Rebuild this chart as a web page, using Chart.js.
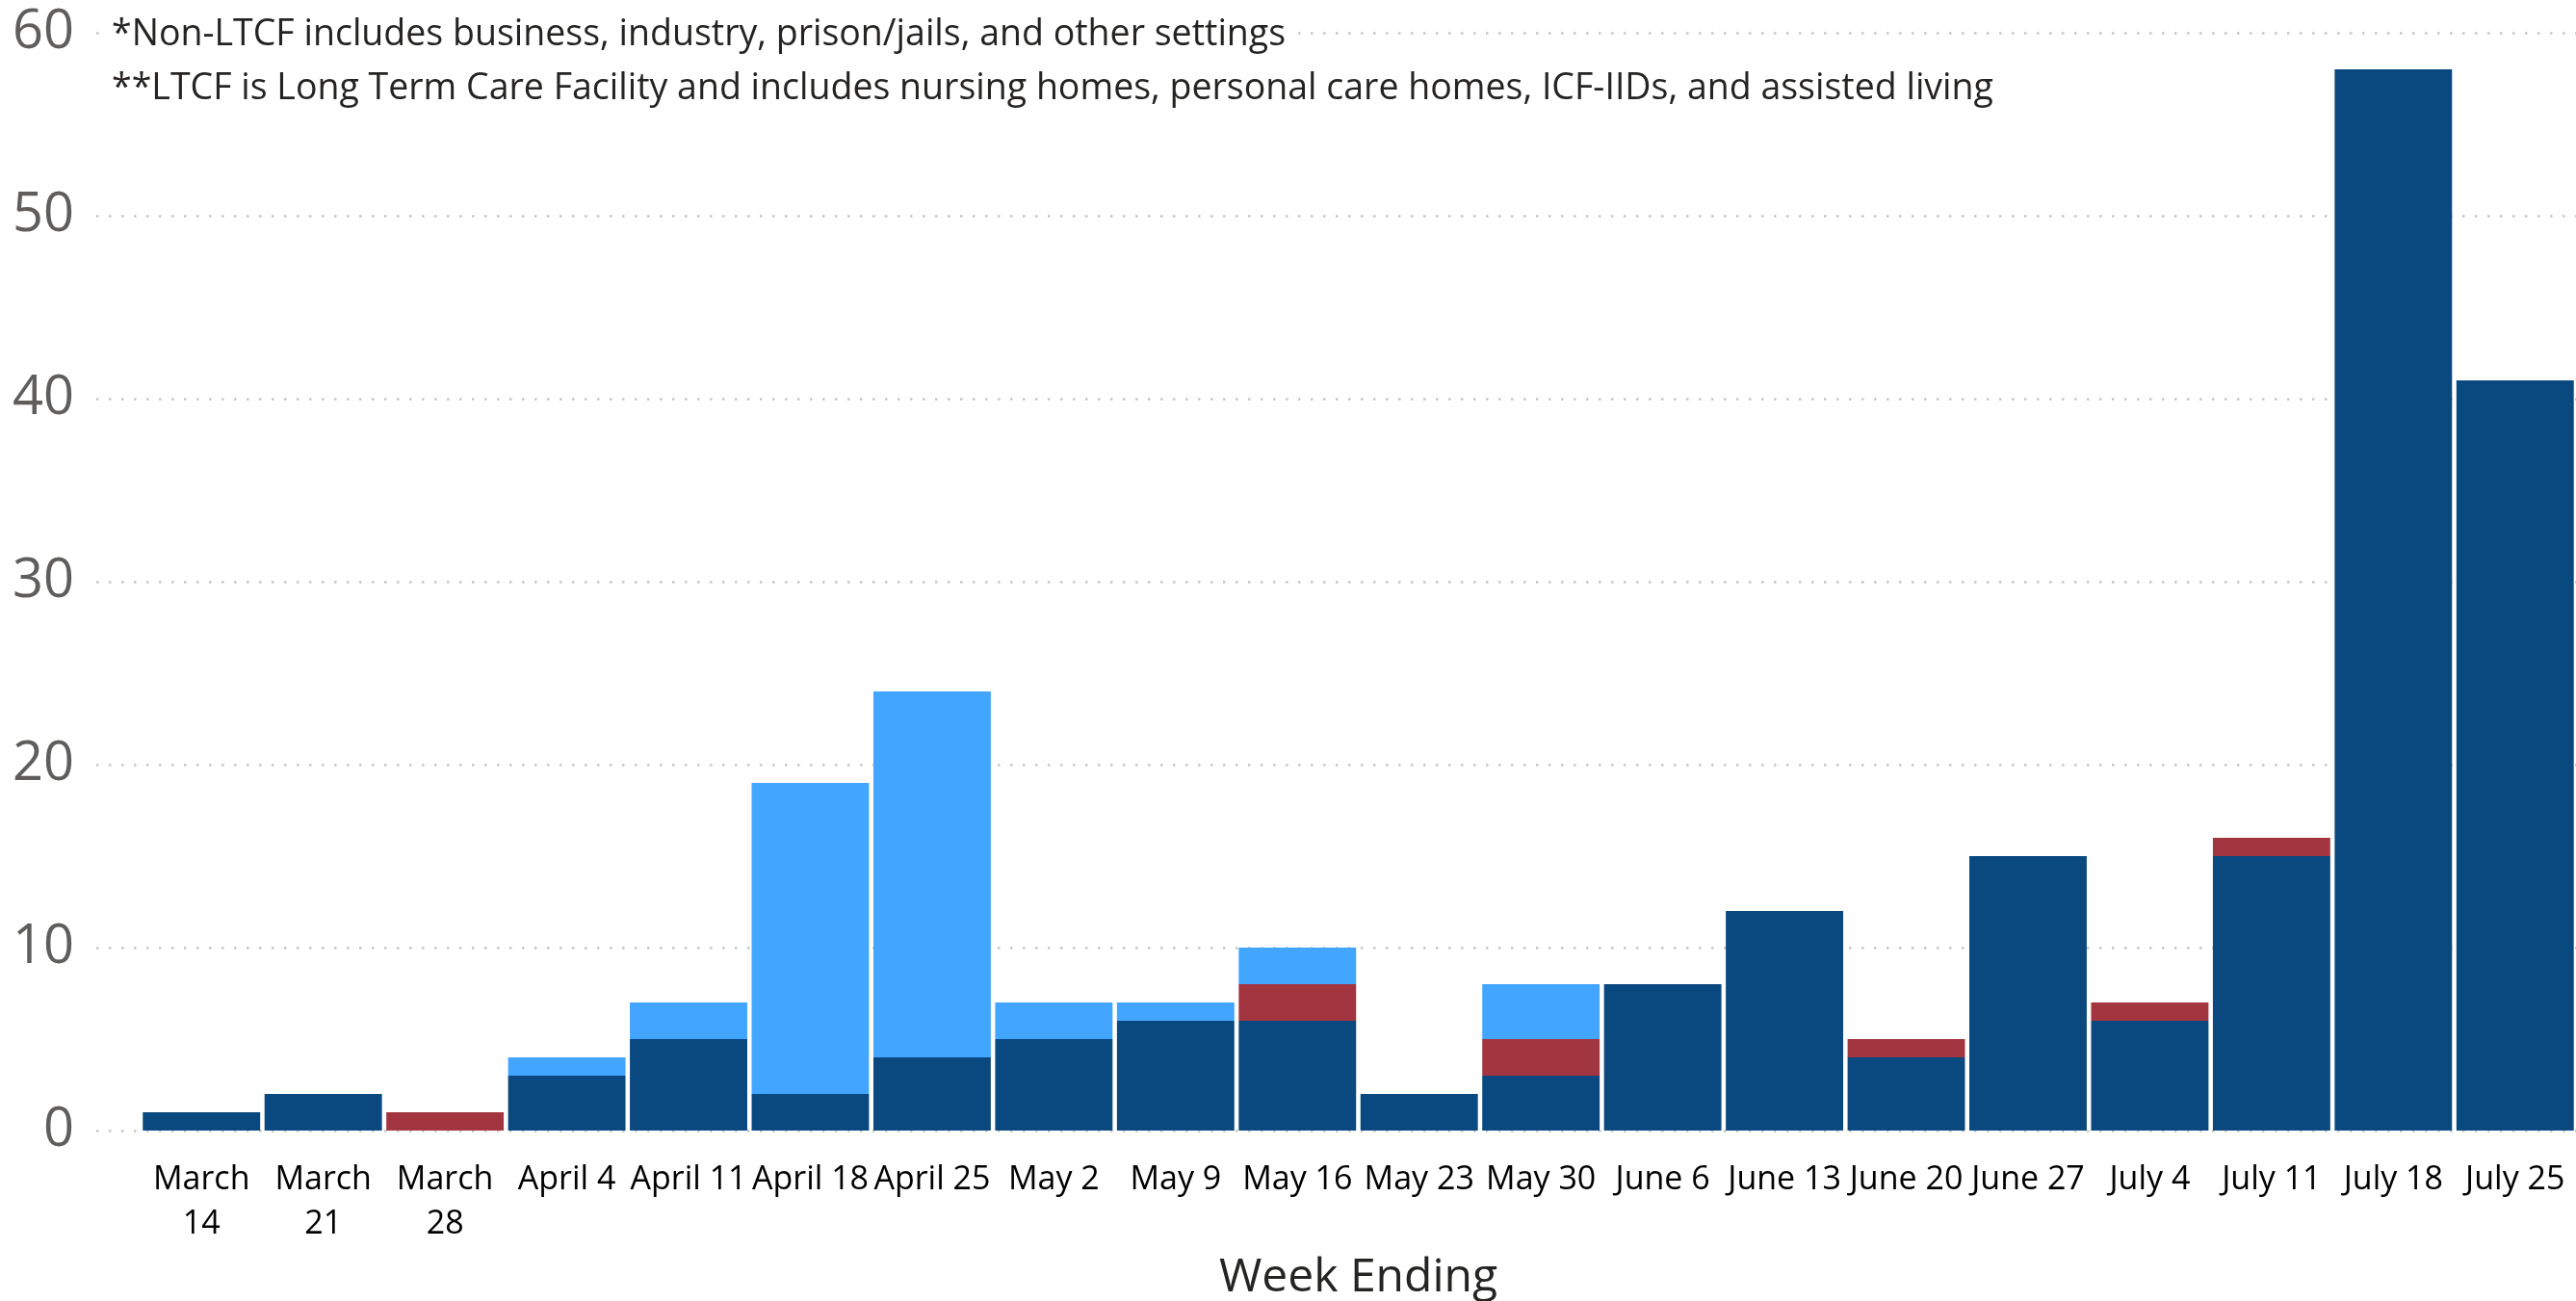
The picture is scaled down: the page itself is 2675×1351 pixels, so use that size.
<!DOCTYPE html>
<html>
<head>
<meta charset="utf-8">
<script src="https://cdn.jsdelivr.net/npm/chart.js@4.4.1/dist/chart.umd.min.js"></script>
<style>
  html, body { margin: 0; padding: 0; background: #fff; }
  #wrap { width: 2675px; height: 1351px; }
</style>
</head>
<body>
<div id="wrap"><canvas id="weekChart" width="2675" height="1351"></canvas></div>
<script>
// Week ending labels (the March ones wrap to two lines in the original)
const weeks = [
    ['March', '14'], ['March', '21'], ['March', '28'], 'April 4', 'April 11', 'April 18', 'April 25',
    'May 2', 'May 9', 'May 16', 'May 23', 'May 30', 'June 6', 'June 13', 'June 20', 'June 27',
    'July 4', 'July 11', 'July 18', 'July 25'
];

// Stacked series, bottom to top
const nonLtcf = [1, 2, 0, 3, 5, 2, 4, 5, 6, 6, 2, 3, 8, 12, 4, 15, 6, 15, 58, 41];
const other   = [0, 0, 1, 0, 0, 0, 0, 0, 0, 2, 0, 2, 0, 0, 1, 0, 1, 1, 0, 0];
const ltcf    = [0, 0, 0, 1, 2, 17, 20, 2, 1, 2, 0, 3, 0, 0, 0, 0, 0, 0, 0, 0];

const yTicks = [0, 10, 20, 30, 40, 50, 60];

const notes = [
    '*Non-LTCF includes business, industry, prison/jails, and other settings',
    '**LTCF is Long Term Care Facility and includes nursing homes, personal care homes, ICF-IIDs, and assisted living'
];

const FONT = "'Open Sans', 'Noto Sans', sans-serif";

// dotted horizontal gridlines, drawn behind the bars, running past the plot's left edge
const dottedGrid = {
    id: 'dottedGrid',
    beforeDatasetsDraw(chart) {
        const { ctx, scales: { y } } = chart;
        ctx.save();
        ctx.strokeStyle = '#c8c6c4';
        ctx.lineWidth = 2.5;
        ctx.setLineDash([2.5, 10.5]);
        yTicks.forEach(v => {
            const py = Math.round(y.getPixelForValue(v)) + 0.5;
            ctx.beginPath();
            ctx.moveTo(100, py);
            ctx.lineTo(chart.width, py);
            ctx.stroke();
        });
        ctx.restore();
    }
};

// footnote text box in the top left of the plot
const footnotes = {
    id: 'footnotes',
    afterDraw(chart) {
        const { ctx } = chart;
        ctx.save();
        ctx.font = '37.5px ' + FONT;
        ctx.textBaseline = 'middle';
        const x = 116;
        notes.forEach((t, i) => {
            const yy = 36 + i * 56;
            const w = ctx.measureText(t).width;
            ctx.fillStyle = '#fff';
            ctx.fillRect(x - 4, yy - 22, w + 12, 44);
            ctx.fillStyle = '#252423';
            ctx.fillText(t, x, yy);
        });
        ctx.restore();
    }
};

const ctx = document.getElementById('weekChart').getContext('2d');
new Chart(ctx, {
    type: 'bar',
    data: {
        labels: weeks,
        datasets: [
            { label: 'Non-LTCF*', data: nonLtcf, backgroundColor: '#0a4880' },
            { label: 'Other', data: other, backgroundColor: '#a33540' },
            { label: 'LTCF**', data: ltcf, backgroundColor: '#42a5ff' }
        ]
    },
    options: {
        responsive: false,
        animation: false,
        layout: { padding: { top: 34, right: 0, bottom: 0, left: 0 } },
        datasets: { bar: { categoryPercentage: 1, barPercentage: 0.964 } },
        plugins: {
            legend: { display: false },
            tooltip: { enabled: false }
        },
        scales: {
            x: {
                stacked: true,
                grid: { display: false, drawTicks: false },
                border: { display: false },
                ticks: {
                    color: '#000',
                    padding: 28,
                    maxRotation: 0,
                    autoSkip: false,
                    font: { family: FONT, size: 34, lineHeight: 1.36 }
                },
                title: {
                    display: true,
                    text: 'Week Ending',
                    color: '#252423',
                    padding: { top: 0, bottom: 0 },
                    font: { family: FONT, size: 48, weight: '500', lineHeight: 1.0 }
                },
                afterFit: s => {
                    s.height = 177;
                    s.paddingLeft = 0;
                    s.paddingRight = 0;
                }
            },
            y: {
                stacked: true,
                min: 0,
                max: 60,
                grid: { display: false, drawTicks: false },
                border: { display: false },
                ticks: {
                    stepSize: 10,
                    color: '#605e5c',
                    padding: 69,
                    font: { family: FONT, size: 56 }
                },
                afterFit: s => {
                    s.width = 146;
                    s.paddingTop = 0;
                    s.paddingBottom = 0;
                }
            }
        }
    },
    plugins: [dottedGrid, footnotes]
});
</script>
</body>
</html>
